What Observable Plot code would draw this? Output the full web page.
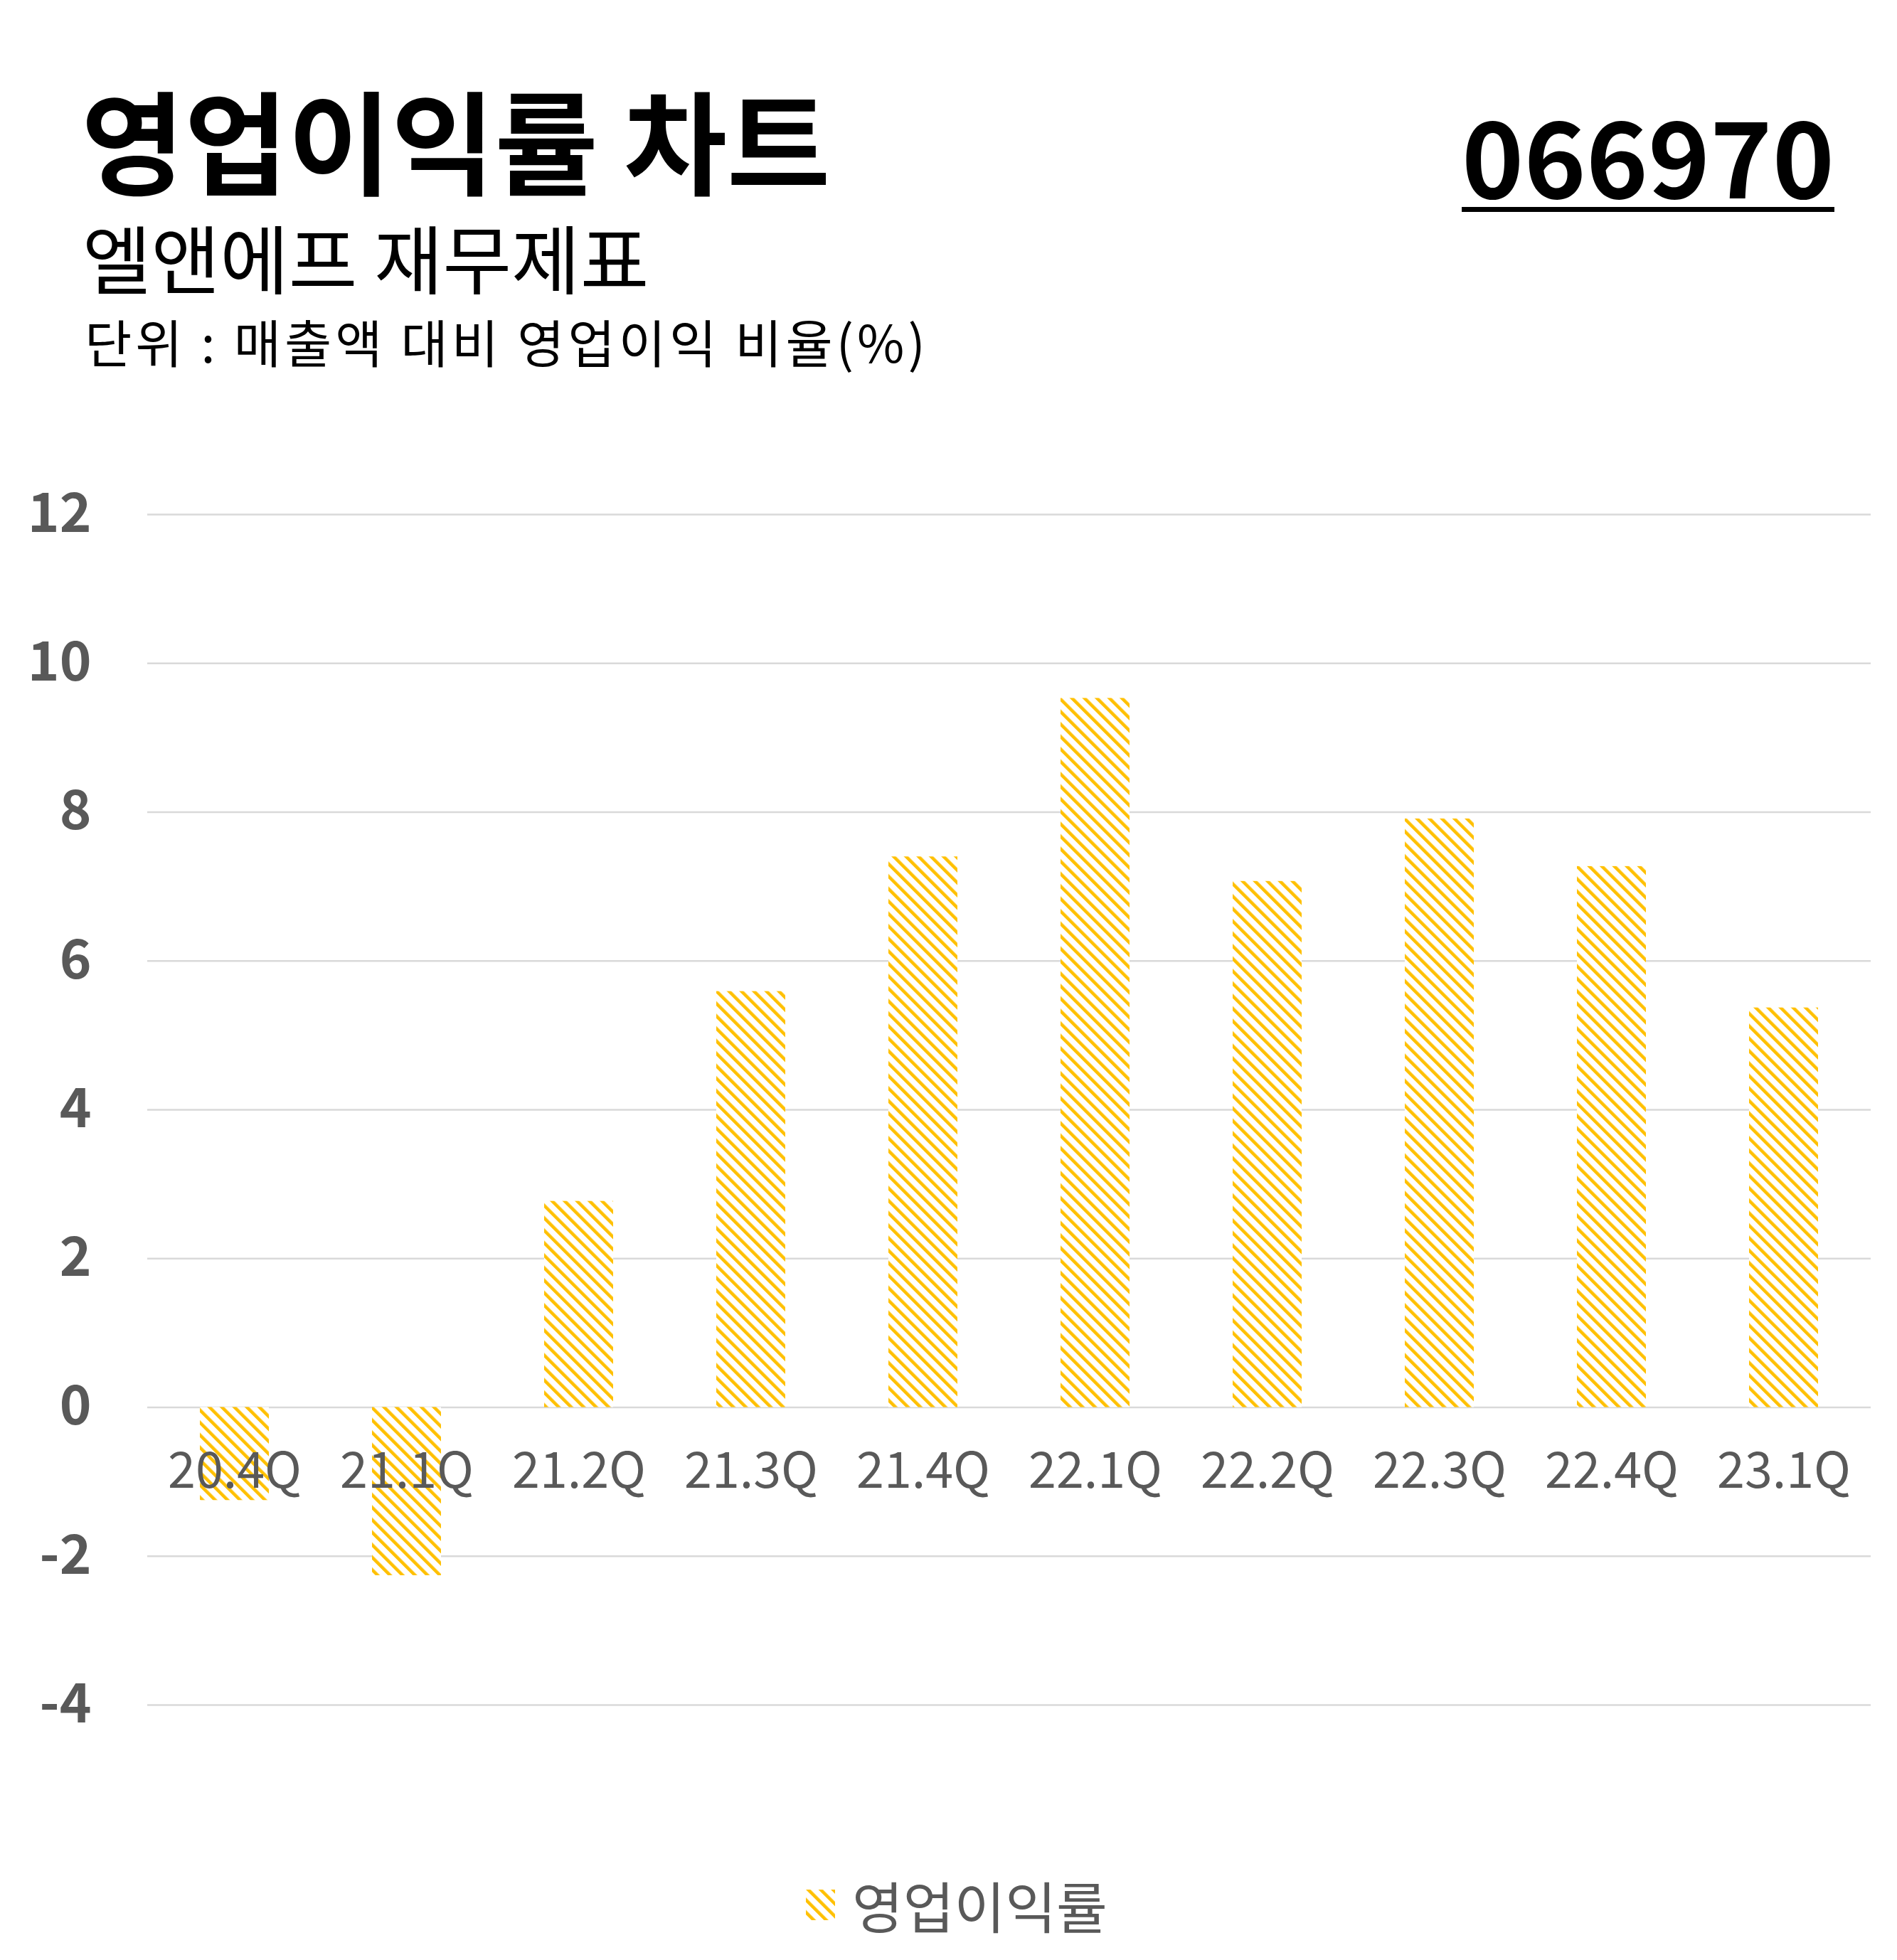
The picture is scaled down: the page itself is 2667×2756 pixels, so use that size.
<!DOCTYPE html>
<html><head><meta charset="utf-8">
<script src="https://cdn.jsdelivr.net/npm/d3@7"></script>
<script src="https://cdn.jsdelivr.net/npm/@observablehq/plot@0.6"></script>
<style>
html,body{margin:0;padding:0;background:#fff}
body{width:2667px;height:2756px;position:relative;overflow:hidden;font-family:"Noto Sans CJK KR","Noto Sans",sans-serif}
.abs{position:absolute;white-space:nowrap;line-height:1}
#chart{position:absolute;left:0;top:600px}
</style></head><body>
<div class="abs" style="left:114px;top:115px;font-size:158px;font-weight:700;color:#000">영업이익률 차트</div>
<div class="abs" style="right:88px;top:141px;font-size:148px;font-weight:700;color:#000;text-decoration:underline;text-decoration-thickness:7px;text-underline-offset:12px">066970</div>
<div class="abs" style="left:116px;top:307px;font-size:105px;font-weight:400;color:#000">엘앤에프 재무제표</div>
<div class="abs" style="left:119px;top:443px;font-size:72px;font-weight:400;color:#000;letter-spacing:5px">단위 : 매출액 대비 영업이익 비율(%)</div>
<div id="chart"></div>
<svg class="abs" style="left:1133px;top:2657px" width="41" height="43">
<defs><pattern id="hatchL" patternUnits="userSpaceOnUse" width="12.4" height="12.4" patternTransform="rotate(-45)"><rect width="12.4" height="12.4" fill="#fff"/><rect width="4.5" height="12.4" fill="#FFC000"/></pattern></defs>
<rect width="41" height="43" fill="url(#hatchL)"/>
</svg>
<div class="abs" style="left:1198px;top:2639px;font-size:78px;color:#595959">영업이익률</div>
<script>
const quarters = ["20.4Q","21.1Q","21.2Q","21.3Q","21.4Q","22.1Q","22.2Q","22.3Q","22.4Q","23.1Q"];
const margins = [-1.25,-2.26,2.77,5.59,7.40,9.53,7.07,7.91,7.27,5.37];
const yTicks = [-4,-2,0,2,4,6,8,10,12];
const data = quarters.map((q,i)=>({q, v: margins[i]}));

const chart = Plot.plot({
  width: 2667, height: 1900,
  marginTop: 123, marginBottom: 103, marginLeft: 207, marginRight: 37,
  style: {fontFamily: "Noto Sans CJK KR", background: "white", color: "#595959", overflow: "visible"},
  x: {domain: quarters, paddingInner: 0.6, paddingOuter: 0.3, axis: null},
  y: {domain: [-4, 12], axis: null},
  marks: [
    Plot.gridY(yTicks, {stroke: "#d9d9d9", strokeOpacity: 1, strokeWidth: 2.5}),
    Plot.barY(data, {x: "q", y: "v", fill: "url(#hatch)"}),
    Plot.text(quarters, {x: d => d, y: d => 0, dy: 91, text: d => d, fontSize: 70, fill: "#595959"}),
    Plot.axisY(yTicks, {tickSize: 0, tickPadding: 79, fontSize: 76, fontWeight: "bold", fill: "#595959", label: null, tickFormat: d => String(d)})
  ]
});
const svg = d3.select(chart);
svg.insert("defs", ":first-child").html('<pattern id="hatch" patternUnits="userSpaceOnUse" width="12.4" height="12.4" patternTransform="rotate(-45)"><rect width="12.4" height="12.4" fill="#fff"/><rect width="4.5" height="12.4" fill="#FFC000"/></pattern>');
document.getElementById("chart").appendChild(chart);
</script>
</body></html>
